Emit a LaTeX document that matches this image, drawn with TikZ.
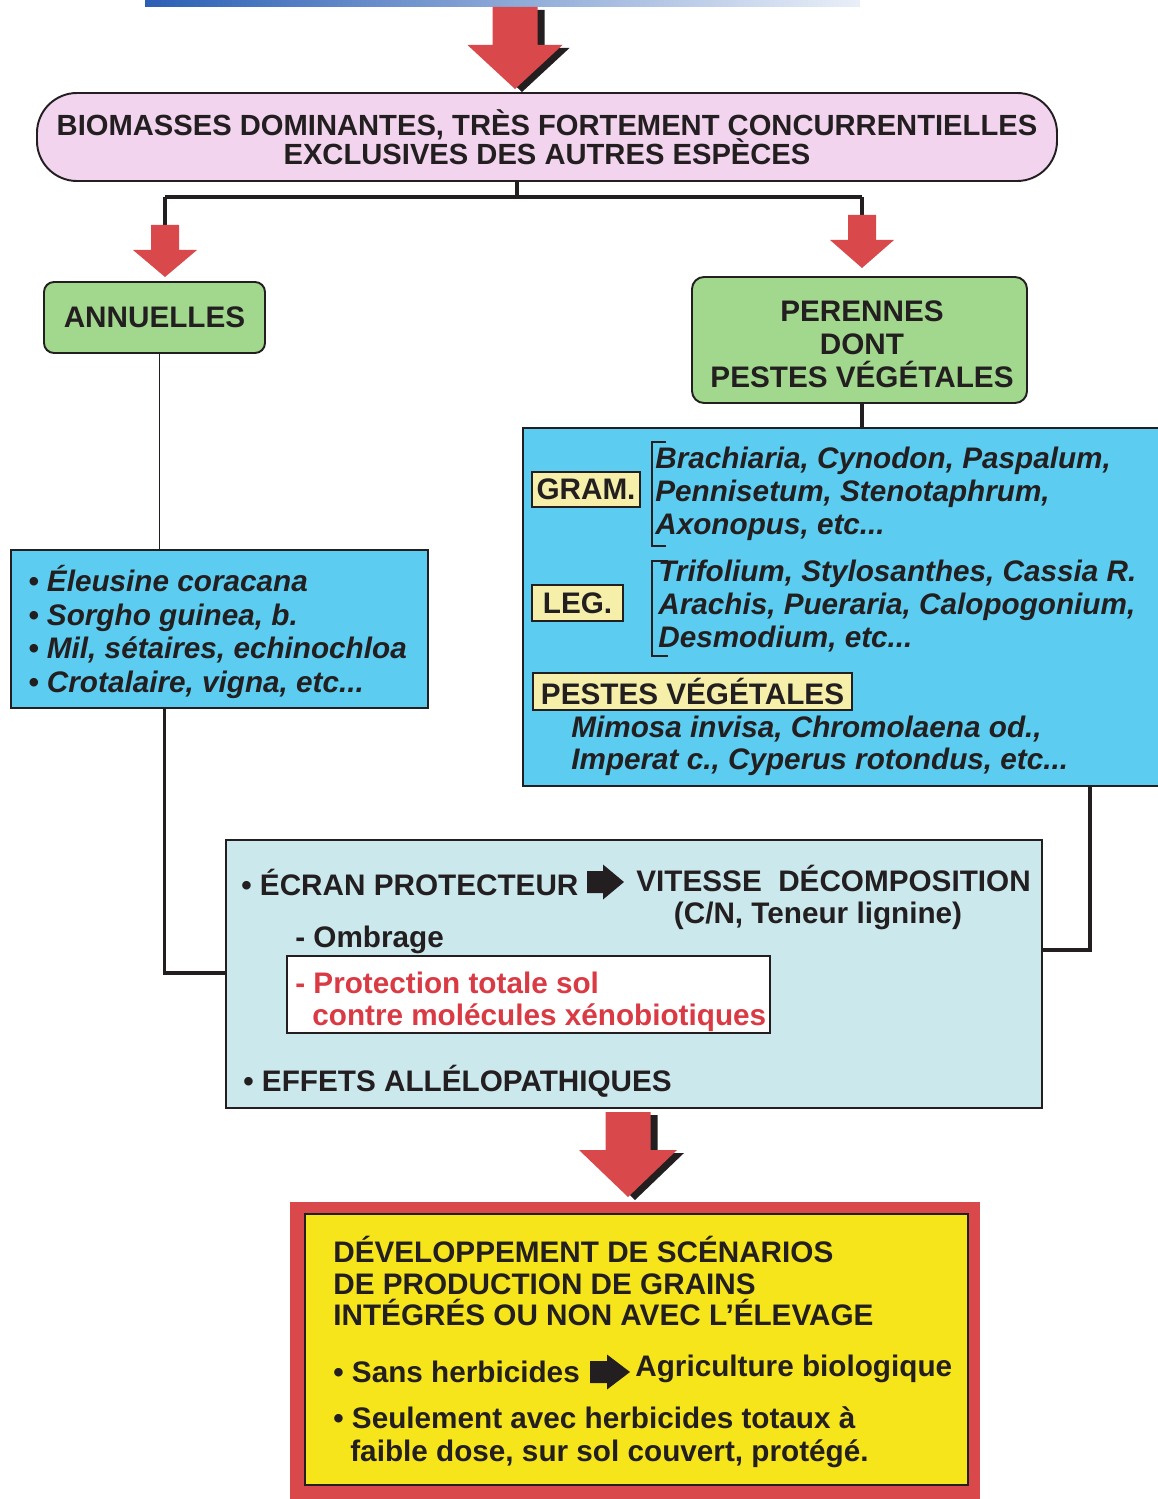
\documentclass[tikz,border=0pt]{standalone}
\usepackage{fontspec}
\setmainfont{Liberation Sans}
\usetikzlibrary{calc}

% Let caps lines sit closer than their natural height
\newcommand{\tightLines}{\lineskiplimit=-20pt\relax}

% Fat block arrow, pointing down: shaft half width / head half width / shaft length / total length
\tikzset{
    pics/fatarrow/.style args={#1/#2/#3/#4}{
        code={\fill (-#1,0) -- (#1,0) -- (#1,#3) -- (#2,#3) -- (0,#4) -- (-#2,#3) -- (-#1,#3) -- cycle;}
    }
}

\begin{document}
\begin{tikzpicture}[x=0.2mm, y=-0.2mm,
    every node/.style={text=inkDark, font=\bfseries\fontsize{16.9}{18.7}\selectfont},
    box/.style={draw=inkDark, line width=1.1pt, inner sep=0pt},
    tagbox/.style={box, fill=labelYellow, line width=0.9pt},
    conn/.style={draw=inkDark, line width=2pt},
    thinconn/.style={draw=inkDark, line width=1pt},
    brk/.style={draw=inkDark, line width=1.2pt},
    txt/.style={anchor=west, inner sep=0pt, align=left},
    species/.style={txt, font=\bfseries\itshape\fontsize{16.9}{18.8}\selectfont}]

    % Define colours
    \definecolor{inkDark}{HTML}{231F20}
    \definecolor{pillPink}{HTML}{F2D4EE}
    \definecolor{boxGreen}{HTML}{A2D88E}
    \definecolor{boxCyan}{HTML}{5CCDF0}
    \definecolor{boxPale}{HTML}{CBE8ED}
    \definecolor{labelYellow}{HTML}{F5EFAA}
    \definecolor{finalYellow}{HTML}{F7E51C}
    \definecolor{arrowRed}{HTML}{D9484A}
    \definecolor{textRed}{HTML}{D93A44}
    \definecolor{barBlue}{HTML}{2B5FB5}

    \useasboundingbox (0,0) rectangle (1157,1499);

    % Cut-off bar at the top
    \shade[left color=barBlue, right color=barBlue!10] (145,0) rectangle (860,7);

    % Top arrow with shadow
    \pic[fill=inkDark] at (522,10) {fatarrow=22.5/47.5/38/82};
    \pic[fill=arrowRed] at (515,7) {fatarrow=22.5/47.5/38/82};

    % Main statement
    \node[box, fill=pillPink, rounded corners=8mm, minimum width=204mm, minimum height=17.6mm,
        align=center, font=\bfseries\fontsize{16.6}{16.6}\selectfont\tightLines] (bio) at (547,137)
        {BIOMASSES DOMINANTES, TRÈS FORTEMENT CONCURRENTIELLES\\EXCLUSIVES DES AUTRES ESPÈCES};

    % Split into two branches
    \coordinate (split) at (517,197);
    \coordinate (lbr) at (165,197);
    \coordinate (rbr) at (862,197);
    \coordinate (lArrowTop) at (165,225);
    \coordinate (rArrowTop) at (862,215);
    \draw[conn] (split |- bio.south) -- (split);
    \draw[conn] (lbr) -- (rbr);
    \draw[conn] (lbr) -- (lArrowTop);
    \draw[conn] (rbr) -- (rArrowTop);
    \pic[fill=arrowRed] at (lArrowTop) {fatarrow=14/32/25/52};
    \pic[fill=arrowRed] at (rArrowTop) {fatarrow=14/32/25/53};

    % Branch boxes
    \node[box, fill=boxGreen, rounded corners=2mm, minimum width=44.2mm, minimum height=14.2mm] (ann) at (154.5,317.5) {ANNUELLES};
    \node[box, fill=boxGreen, rounded corners=2.4mm, minimum width=67mm, minimum height=25.2mm] (per) at (859.5,340) {};
    \node[align=center, inner sep=0pt] (perText) at (862,344) {PERENNES\\DONT\\PESTES VÉGÉTALES};

    % Annual species
    \draw[thinconn] ($(ann.south)+(5,0)$) -- (159.5,550);
    \node[box, fill=boxCyan, minimum width=83.4mm, minimum height=31.6mm] (annlist) at (219.5,629) {};
    \node[species, font=\bfseries\itshape\fontsize{16.9}{19}\selectfont] (annItems) at (28,632)
        {• Éleusine coracana\\• Sorgho guinea, b.\\• Mil, sétaires, echinochloa\\• Crotalaire, vigna, etc...};

    % Perennial species
    \draw[conn] (862,403) -- (862,428);
    \node[box, fill=boxCyan, minimum width=128.4mm, minimum height=71.6mm] (perlist) at (844,607) {};
    \node[tagbox, minimum width=21.6mm, minimum height=7mm] (gram) at (586,489.5) {GRAM.};
    \node[tagbox, minimum width=18.2mm, minimum height=7.2mm] (leg) at (577.5,603) {LEG.};
    \node[tagbox, minimum width=63.8mm, minimum height=7.4mm] (pestes) at (692.5,691.5) {PESTES VÉGÉTALES};
    \draw[brk] (666,442) -| (652,546) -- (666,546);
    \draw[brk] (668,561) -| (652,656) -- (668,656);
    \node[species] (gramList) at (655,494) {Brachiaria, Cynodon, Paspalum,\\Pennisetum, Stenotaphrum,\\Axonopus, etc...};
    \node[species] (legList) at (658,606) {Trifolium, Stylosanthes, Cassia R.\\Arachis, Pueraria, Calopogonium,\\Desmodium, etc...};
    \node[species, font=\bfseries\itshape\fontsize{16.9}{18.1}\selectfont] (pestList) at (571,746)
        {Mimosa invisa, Chromolaena od.,\\Imperat c., Cyperus rotondus, etc...};

    % Protective cover
    \coordinate (rjoin) at (1090,950);
    \draw[conn] ($(annlist.south)+(-55,0)$) |- (634,973);
    \draw[conn] (rjoin |- perlist.south) -- (rjoin) -- (1000,950);
    \node[box, fill=boxPale, minimum width=163.2mm, minimum height=53.6mm] (ecran) at (634,974) {};
    \node[txt] (ecranText) at (241,882) {• ÉCRAN PROTECTEUR};
    \pic[fill=inkDark, rotate=90] at (587,882) {fatarrow=11/17.5/16/37};
    \node[txt] (vitesse) at (636,878) {VITESSE\ \ DÉCOMPOSITION};
    \node[inner sep=0pt] (cnText) at (818,916) {(C/N, Teneur lignine)};
    \node[txt] (ombrage) at (295,940) {- Ombrage};
    \node[box, fill=white, minimum width=96.6mm, minimum height=15.4mm] (prot) at (528.5,994.5) {};
    \node[txt, text=textRed, font=\bfseries\fontsize{16.9}{18.1}\selectfont] (protText) at (295,1002)
        {- Protection totale sol\\\hspace*{3.4mm}contre molécules xénobiotiques};
    \node[txt] (effets) at (243,1081) {• EFFETS ALLÉLOPATHIQUES};

    % Bottom arrow with shadow
    \pic[fill=inkDark] at (635,1115) {fatarrow=22.5/49/38/85};
    \pic[fill=arrowRed] at (628,1112) {fatarrow=22.5/49/38/85};

    % Outcome
    \node[fill=arrowRed, inner sep=0pt, minimum width=138mm, minimum height=60mm] (finalOuter) at (635,1352) {};
    \node[box, fill=finalYellow, minimum width=132.6mm, minimum height=54.2mm] (final) at (636.5,1349.5) {};
    \node[txt, font=\bfseries\fontsize{16.9}{17.8}\selectfont\tightLines] (finalTitle) at (333,1281)
        {DÉVELOPPEMENT DE SCÉNARIOS\\DE PRODUCTION DE GRAINS\\INTÉGRÉS OU NON AVEC L’ÉLEVAGE};
    \node[txt] (sans) at (333,1372) {• Sans herbicides};
    \pic[fill=inkDark, rotate=90] at (590,1372) {fatarrow=11/17.5/17/40};
    \node[txt] (agri) at (635,1369) {Agriculture biologique};
    \node[txt] (seul) at (333,1437)
        {• Seulement avec herbicides totaux à\\\hspace*{3.4mm}faible dose, sur sol couvert, protégé.};
\end{tikzpicture}
\end{document}
